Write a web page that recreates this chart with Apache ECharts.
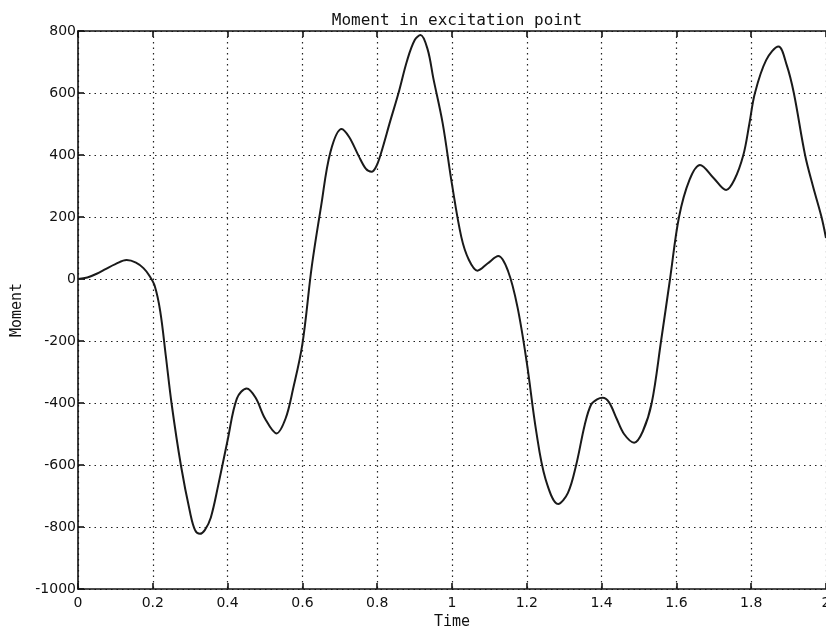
<!DOCTYPE html>
<html>
<head>
<meta charset="utf-8">
<script src="https://cdn.jsdelivr.net/npm/echarts@6/dist/echarts.min.js"></script>
<style>
  html, body { margin: 0; padding: 0; background: #fff; }
  #chart { width: 826px; height: 626px; }
</style>
</head>
<body>
<div id="chart"></div>
<script>
// values (peaks and dips included as their own points)
const timeValues = [
  0, 0.025, 0.05, 0.075, 0.1, 0.13, 0.155, 0.175, 0.19, 0.205,
  0.22, 0.235, 0.25, 0.275, 0.3, 0.313, 0.326, 0.339, 0.355, 0.375,
  0.4, 0.425, 0.451, 0.475, 0.5, 0.531, 0.555, 0.575, 0.6, 0.625,
  0.65, 0.675, 0.705, 0.725, 0.75, 0.77, 0.785, 0.797, 0.81, 0.835,
  0.857, 0.88, 0.9, 0.916, 0.935, 0.95, 0.975, 1, 1.025, 1.045,
  1.068, 1.095, 1.124, 1.15, 1.175, 1.2, 1.225, 1.25, 1.284, 1.31,
  1.332, 1.355, 1.372, 1.388, 1.403, 1.42, 1.44, 1.46, 1.487, 1.51,
  1.534, 1.559, 1.583, 1.607, 1.635, 1.663, 1.7, 1.733, 1.755, 1.779,
  1.795, 1.81, 1.84, 1.873, 1.895, 1.914, 1.944, 1.965, 1.988, 2
];
const momentValues = [
  0, 5, 17, 33, 48, 61, 53, 35, 12, -22,
  -105, -250, -400, -600, -755, -810, -822, -810, -770, -665,
  -520, -385, -353, -383, -450, -498, -450, -355, -210, 40,
  235, 410, 484, 458, 398, 355, 346, 362, 405, 510,
  600, 705, 770, 787, 740, 648, 503, 305, 135, 62,
  27, 50, 74, 25, -90, -270, -490, -645, -726, -690,
  -600, -470, -405, -388, -383, -398, -450, -500, -528, -492,
  -400, -200, 0, 200, 320, 368, 325, 287, 320, 400,
  500, 600, 706, 750, 690, 600, 400, 300, 200, 132
];
const xTicks = { min: 0, max: 2, interval: 0.2 };
const yTicks = { min: -1000, max: 800, interval: 200 };

const points = timeValues.map((t, i) => [t, momentValues[i]]);

const chart = echarts.init(document.getElementById('chart'));

const gridDots = { color: '#222', width: 1.2, type: [1.5, 4] };
const frame = { color: '#111', width: 1.6 };
const labelFont = { color: '#111', fontFamily: 'DejaVu Sans', fontSize: 14 };
const monoFont = { color: '#111', fontFamily: 'DejaVu Sans Mono', fontSize: 15 };

chart.setOption({
  animation: false,
  backgroundColor: '#fff',
  title: {
    text: 'Moment in excitation point',
    left: 452,
    textAlign: 'center',
    top: 8,
    textStyle: Object.assign({ fontWeight: 'normal' }, monoFont, { fontSize: 16 })
  },
  grid: { left: 78, right: 0, top: 31, bottom: 37, outerBoundsMode: 'none' },
  xAxis: [
    {
      type: 'value',
      min: xTicks.min, max: xTicks.max, interval: xTicks.interval,
      name: 'Time',
      nameLocation: 'middle',
      nameGap: 20,
      nameTextStyle: monoFont,
      axisLine: { onZero: false, lineStyle: frame },
      axisTick: { inside: true, length: 6, lineStyle: frame },
      axisLabel: Object.assign({ margin: 7, showMaxLabel: true, hideOverlap: false }, labelFont),
      splitLine: { show: true, lineStyle: gridDots }
    },
    {
      type: 'value',
      position: 'top',
      min: xTicks.min, max: xTicks.max, interval: xTicks.interval,
      axisLine: { onZero: false, lineStyle: frame },
      axisTick: { inside: true, length: 6, lineStyle: frame },
      axisLabel: { show: false },
      splitLine: { show: false }
    }
  ],
  yAxis: {
    type: 'value',
    min: yTicks.min, max: yTicks.max, interval: yTicks.interval,
    name: 'Moment',
    nameLocation: 'middle',
    nameGap: 52,
    nameRotate: 90,
    nameTextStyle: monoFont,
    axisLine: { show: true, onZero: false, lineStyle: frame },
    axisTick: { show: true, inside: true, length: 6, lineStyle: frame },
    axisLabel: Object.assign({ margin: 2, formatter: v => String(v) }, labelFont),
    splitLine: { show: true, lineStyle: gridDots }
  },
  series: [{
    type: 'line',
    data: points,
    smooth: 0.35,
    showSymbol: false,
    clip: true,
    lineStyle: { color: '#1a1a1a', width: 2 }
  }]
});
</script>
</body>
</html>
